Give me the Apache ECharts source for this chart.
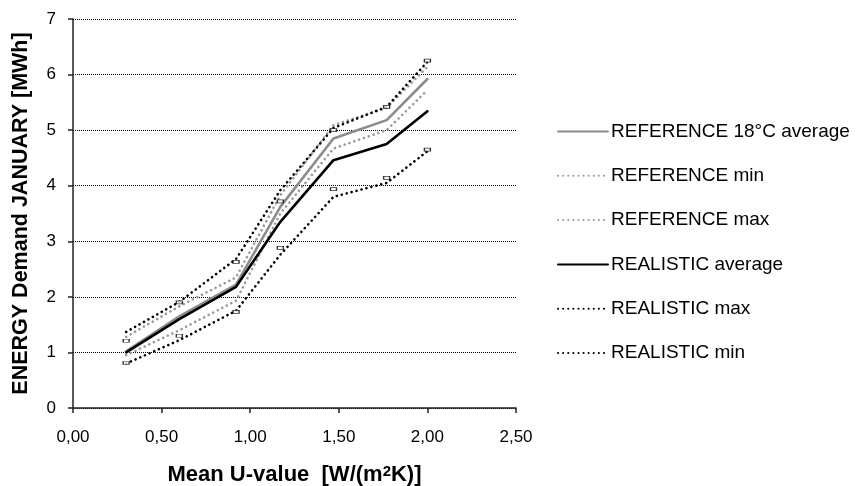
<!DOCTYPE html>
<html>
<head>
<meta charset="utf-8">
<script src="https://cdn.jsdelivr.net/npm/echarts@6/dist/echarts.min.js"></script>
<style>html,body{margin:0;padding:0;background:#fff}#c{width:864px;height:486px}</style>
</head>
<body>
<div id="c"></div>
<script>
const uValues  = [0.30, 0.60, 0.92, 1.17, 1.47, 1.77, 2.00];
const refAvg   = [1.02, 1.65, 2.22, 3.62, 4.85, 5.18, 5.92];
const refMin   = [0.95, 1.40, 1.93, 3.50, 4.67, 5.00, 5.72];
const refMax   = [1.28, 1.83, 2.35, 3.83, 5.09, 5.40, 6.14];
const realAvg  = [1.00, 1.60, 2.18, 3.35, 4.46, 4.75, 5.34];
const realMax  = [1.37, 1.91, 2.68, 3.92, 5.04, 5.42, 6.23];
const realMin  = [0.80, 1.22, 1.75, 2.76, 3.80, 4.05, 4.62];
const markUpper = [1.21, 1.90, 2.63, 3.72, 5.00, 5.42, 6.25];
const markLower = [0.81, 1.30, 1.73, 2.88, 3.94, 4.14, 4.65];
const legendNames = ['REFERENCE 18°C average','REFERENCE min','REFERENCE max','REALISTIC average','REALISTIC max','REALISTIC min'];

const pair = arr => uValues.map((u,i)=>[u, arr[i]]);
const FONT = 'Liberation Sans, Arial, sans-serif';
const dots = [0.1, 5];

function line(name, data, color, dotted){
  return {
    name, type:'line', data: pair(data), symbol:'none', z: dotted?2:3,
    lineStyle:{color, width:2.6, type: dotted?dots:'solid', cap:'round'},
    itemStyle:{color}
  };
}
function marks(name, data){
  return {
    name, type:'scatter', data: pair(data), symbol:'rect', symbolSize:[6,3], z:5,
    itemStyle:{color:'#fff', borderColor:'#000', borderWidth:1}
  };
}

const chart = echarts.init(document.getElementById('c'), null, {renderer:'canvas'});
chart.setOption({
  animation:false,
  backgroundColor:'#fff',
  textStyle:{fontFamily:FONT},
  grid:{left:73, right:348, top:19, bottom:78, containLabel:false, outerBoundsMode:'none'},
  legend:{
    data: legendNames.map(n=>({name:n})),
    orient:'vertical', left:552, top:117, itemWidth:50, itemHeight:14, itemGap:25.3,
    itemStyle:{opacity:0},
    textStyle:{fontFamily:FONT, fontSize:19, color:'#000', lineHeight:19, padding:[0,0,0,-2]},
    selectedMode:false
  },
  xAxis:{
    type:'value', min:0, max:2.5, interval:0.5,
    name:'Mean U-value  [W/(m{s|2}K)]', nameLocation:'middle', nameGap:56,
    nameTextStyle:{fontFamily:FONT, fontSize:22, fontWeight:'bold', color:'#000',
      rich:{s:{fontFamily:FONT, fontSize:15, fontWeight:'bold', color:'#000', verticalAlign:'top', padding:[0,0,6,0]}}},
    axisLine:{show:true, onZero:false, lineStyle:{color:'#222', width:1.5}},
    axisTick:{show:true, length:5, inside:false, lineStyle:{color:'#222', width:1.5}},
    axisLabel:{fontFamily:FONT, fontSize:17, color:'#000', margin:21,
      formatter:v=>v.toFixed(2).replace('.',',')},
    splitLine:{show:false}
  },
  yAxis:{
    type:'value', min:0, max:7, interval:1,
    name:'ENERGY Demand JANUARY [MWh]', nameLocation:'middle', nameGap:41, nameRotate:90,
    nameTextStyle:{fontFamily:FONT, fontSize:21.5, fontWeight:'bold', color:'#000'},
    axisLine:{show:true, lineStyle:{color:'#222', width:1.5}},
    axisTick:{show:true, length:5, inside:false, lineStyle:{color:'#222', width:1.5}},
    axisLabel:{fontFamily:FONT, fontSize:17, color:'#000', margin:17},
    splitLine:{show:true, lineStyle:{color:'#000', width:1, type:[1,1]}}
  },
  series:[
    line(legendNames[0], refAvg, '#8c8c8c', false),
    line(legendNames[1], refMin, '#9a9a9a', true),
    line(legendNames[2], refMax, '#9a9a9a', true),
    line(legendNames[3], realAvg, '#000', false),
    line(legendNames[4], realMax, '#000', true),
    line(legendNames[5], realMin, '#000', true),
    marks('upper markers', markUpper),
    marks('lower markers', markLower)
  ]
});
</script>
</body>
</html>
